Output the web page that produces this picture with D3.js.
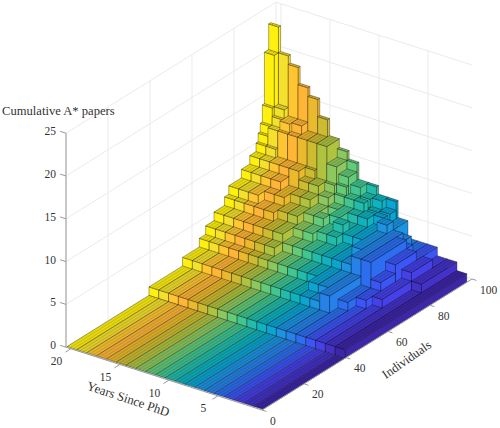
<!DOCTYPE html>
<html>
<head>
<meta charset="utf-8">
<script src="https://cdn.jsdelivr.net/npm/d3@7"></script>
<style>
  html, body { margin: 0; background: #fff; }
  text { font-family: "Liberation Serif", serif; fill: #333; }
</style>
</head>
<body>
<div id="chart"></div>
<script>
var width = 500;
var height = 428;

var yearTicks = [5, 10, 15, 20];
var individualTicks = [0, 20, 40, 60, 80, 100];
var paperTicks = [0, 5, 10, 15, 20, 25];

// first individual of each run of bars that share a height
var runStarts = [1, 40, 52, 56, 60, 64, 67, 71, 76, 78, 81, 84, 88, 91, 92, 93, 94, 95, 97];
var lastIndividual = 97;

var papersYear1 = [0, 1, 1, 1, 1, 1, 1, 1, 1, 1, 1, 1, 1, 1, 1, 1, 1, 1, 1];
var papersYear2 = [0, 1, 1, 1, 1, 1, 1, 1, 1, 1, 2, 2, 2, 2, 2, 2, 2, 2, 2];
var papersYear3 = [0, 1, 1, 1, 1, 1, 2, 2, 2, 2, 3, 3, 3, 2, 2, 2, 2, 2, 2];
var papersYear4 = [0, 1, 1, 1, 1, 2, 2, 3, 3, 4, 4, 4, 3, 3, 3, 3, 3, 3, 3];
var papersYear5 = [0, 1, 1, 1, 2, 2, 2, 5, 5, 5, 5, 5, 4, 3, 3, 3, 3, 3, 3];
var papersYear6 = [0, 1, 1, 3, 3, 3, 3, 5, 5, 5, 5, 5, 5, 4, 4, 4, 4, 3, 3];
var papersYear7 = [0, 1, 1, 2, 3, 3, 3, 4, 5, 5, 5, 5, 6, 5, 5, 5, 5, 5, 5];
var papersYear8 = [0, 1, 1, 2, 3, 3, 3, 4, 4, 4, 5, 5, 5, 6, 6, 5, 6, 6, 7];
var papersYear9 = [0, 1, 1, 2, 2, 3, 3, 4, 4, 4, 5, 5, 6, 6, 5, 6, 6, 7, 7];
var papersYear10 = [0, 1, 1, 2, 2, 3, 3, 4, 4, 5, 6, 5, 6, 7, 7, 6, 7, 7, 8];
var papersYear11 = [0, 1, 1, 2, 2, 3, 3, 4, 4, 5, 5, 6, 6, 7, 7, 7, 8, 8, 8];
var papersYear12 = [0, 1, 1, 2, 2, 3, 3, 4, 5, 5, 6, 5, 6, 7, 8, 9, 9, 9, 10];
var papersYear13 = [0, 1, 1, 2, 2, 3, 3, 4, 5, 5, 6, 6, 7, 8, 10, 10, 10, 10, 11];
var papersYear14 = [0, 1, 1, 2, 2, 3, 4, 5, 5, 6, 6, 7, 8, 8, 12, 12, 12, 12, 12];
var papersYear15 = [0, 1, 1, 2, 2, 3, 4, 5, 5, 6, 6, 7, 8, 9, 12, 12, 12, 12, 14];
var papersYear16 = [0, 1, 1, 2, 2, 3, 4, 5, 6, 6, 7, 7, 9, 9, 12, 12, 12, 12, 16];
var papersYear17 = [0, 1, 1, 2, 2, 3, 4, 5, 6, 6, 7, 8, 9, 9, 12, 12, 13, 13, 17];
var papersYear18 = [0, 1, 1, 2, 2, 3, 4, 5, 6, 7, 7, 8, 9, 9, 12, 13, 13, 13, 19];
var papersYear19 = [0, 1, 1, 2, 2, 3, 4, 5, 6, 7, 7, 8, 9, 10, 12, 12, 13, 14, 20];
var papersYear20 = [0, 1, 1, 2, 2, 3, 4, 5, 6, 7, 7, 8, 9, 10, 11, 12, 14, 20, 23];

var papers = [
  papersYear1, papersYear2, papersYear3, papersYear4, papersYear5,
  papersYear6, papersYear7, papersYear8, papersYear9, papersYear10,
  papersYear11, papersYear12, papersYear13, papersYear14, papersYear15,
  papersYear16, papersYear17, papersYear18, papersYear19, papersYear20
];

var yearColors = [
  "#3e26a8", "#4432c8", "#4641e6", "#3c55f5", "#2d6ef0",
  "#2682e8", "#1c94e1", "#0ca5d2", "#0fb2be", "#23bcaa",
  "#41c591", "#64cb78", "#8cc85f", "#afc341", "#cdbc32",
  "#ebb92d", "#ffb637", "#ffc632", "#f5e12d", "#fff00f"
];

var svg = d3
  .select("#chart")
  .append("svg")
  .attr("width", width)
  .attr("height", height)
  .style("display", "block");

// the box is an oblique view, each data axis moves along its own screen direction
var yearX = d3.scaleLinear().domain([0.5, 20.5]).range([0, -196]);
var yearY = d3.scaleLinear().domain([0.5, 20.5]).range([0, -62.8]);
var indX = d3.scaleLinear().domain([0, 100]).range([0, 210]);
var indY = d3.scaleLinear().domain([0, 100]).range([0, -131]);
var paperY = d3.scaleLinear().domain([0, 25]).range([0, -214]);

function project(year, ind, z) {
  return [262 + yearX(year) + indX(ind), 410 + yearY(year) + indY(ind) + paperY(z)];
}

function segment(g, a, b, color, w) {
  var p = project(a[0], a[1], a[2]);
  var q = project(b[0], b[1], b[2]);
  g.append("line")
    .attr("x1", p[0]).attr("y1", p[1])
    .attr("x2", q[0]).attr("y2", q[1])
    .attr("stroke", color)
    .attr("stroke-width", w);
}

// grid
var grid = svg.append("g");
var gridColor = "#ebebeb";
paperTicks.forEach(function (z) {
  segment(grid, [20.5, 0, z], [20.5, 100, z], gridColor, 1);
  segment(grid, [20.5, 100, z], [0.5, 100, z], gridColor, 1);
});
individualTicks.forEach(function (ind) {
  segment(grid, [20.5, ind, 0], [20.5, ind, 25], gridColor, 1);
  segment(grid, [20.5, ind, 0], [0.5, ind, 0], gridColor, 1);
});
yearTicks.forEach(function (year) {
  segment(grid, [year, 100, 0], [year, 100, 25], gridColor, 1);
  segment(grid, [year, 0, 0], [year, 100, 0], gridColor, 1);
});

// bars, back to front
var bars = svg.append("g").attr("stroke", "#000").attr("stroke-opacity", 0.55).attr("stroke-width", 0.6);

function face(points, fill) {
  bars.append("path")
    .attr("d", d3.line()(points) + "Z")
    .attr("fill", fill);
}

// one prism per stretch of equal height
function prisms(series) {
  var out = [];
  runStarts.forEach(function (start, k) {
    var end = k + 1 < runStarts.length ? runStarts[k + 1] - 1 : lastIndividual;
    var prev = out[out.length - 1];
    if (prev && prev.z === series[k]) prev.end = end;
    else out.push({ start: start, end: end, z: series[k] });
  });
  return out.reverse();
}

for (var year = 20; year >= 1; year--) {
  var fill = yearColors[year - 1];
  var topFill = d3.color(fill).darker(0.3).formatHex();
  prisms(papers[year - 1]).forEach(function (d) {
    var y0 = year - 0.5, y1 = year + 0.5, i0 = d.start - 0.5, i1 = d.end + 0.5, z = d.z;
    if (z > 0) {
      face([project(y0, i0, 0), project(y0, i1, 0), project(y0, i1, z), project(y0, i0, z)], fill);
      face([project(y0, i0, 0), project(y1, i0, 0), project(y1, i0, z), project(y0, i0, z)], fill);
    }
    face([project(y0, i0, z), project(y1, i0, z), project(y1, i1, z), project(y0, i1, z)], topFill);
    // fine ruling along each top
    [1 / 3, 2 / 3].forEach(function (t) {
      var a = project(y0 + t, i0, z);
      var b = project(y0 + t, i1, z);
      bars.append("line")
        .attr("x1", a[0]).attr("y1", a[1])
        .attr("x2", b[0]).attr("y2", b[1])
        .attr("stroke-opacity", 0.22)
        .attr("stroke-width", 0.6);
    });
  });
}

// axes
var axes = svg.append("g");
var axisColor = "#999";
segment(axes, [20.5, 0, 0], [20.5, 0, 25], axisColor, 1);
segment(axes, [20.5, 0, 0], [0.5, 0, 0], axisColor, 1);
segment(axes, [0.5, 0, 0], [0.5, 100, 0], axisColor, 1);

paperTicks.forEach(function (z) {
  segment(axes, [20.5, 0, z], [21.1, 0, z], axisColor, 1);
  var p = project(20.5, 0, z);
  axes.append("text")
    .attr("x", p[0] - 10).attr("y", p[1] + 2)
    .attr("text-anchor", "end")
    .style("font-size", "11.5px")
    .text(z);
});
yearTicks.forEach(function (year) {
  segment(axes, [year, 0, 0], [year, -2.6, 0], axisColor, 1);
  var p = project(year, 0, 0);
  axes.append("text")
    .attr("x", p[0] - 14.5).attr("y", p[1] + 16.5)
    .attr("text-anchor", "middle")
    .style("font-size", "11.5px")
    .text(year);
});
individualTicks.forEach(function (ind) {
  segment(axes, [0.5, ind, 0], [0.05, ind, 0], axisColor, 1);
  var p = project(0.5, ind, 0);
  axes.append("text")
    .attr("x", p[0] + 8).attr("y", p[1] + 14.5)
    .style("font-size", "11.5px")
    .text(ind);
});

// labels
svg.append("text")
  .attr("x", 2).attr("y", 115)
  .style("font-size", "12.6px")
  .text("Cumulative A* papers");
svg.append("text")
  .attr("transform", "translate(127,403) rotate(18.4)")
  .attr("text-anchor", "middle")
  .style("font-size", "12.8px")
  .text("Years Since PhD");
svg.append("text")
  .attr("transform", "translate(409,363) rotate(-35)")
  .attr("text-anchor", "middle")
  .style("font-size", "12.6px")
  .text("Individuals");
</script>
</body>
</html>
